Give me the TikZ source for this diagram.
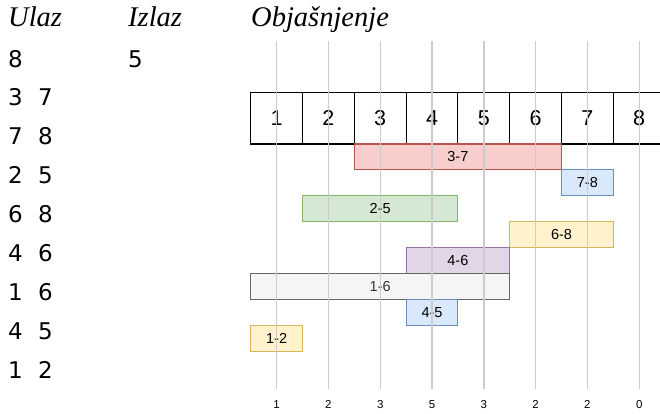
\documentclass[tikz,border=0pt]{standalone}
\usepackage{fontspec}
\setmainfont{Liberation Serif}
\newfontfamily\arialf{Liberation Sans}
\newfontfamily\dejavuf{DejaVu Sans}
\definecolor{redF}{HTML}{F8CECC}\definecolor{redD}{HTML}{B85450}
\definecolor{bluF}{HTML}{DAE8FC}\definecolor{bluD}{HTML}{6C8EBF}
\definecolor{grnF}{HTML}{D5E8D4}\definecolor{grnD}{HTML}{82B366}
\definecolor{ylwF}{HTML}{FFF2CC}\definecolor{ylwD}{HTML}{D6B656}
\definecolor{prpF}{HTML}{E1D5E7}\definecolor{prpD}{HTML}{9673A6}
\definecolor{gryF}{HTML}{F5F5F5}\definecolor{gryD}{HTML}{666666}
\definecolor{gryT}{HTML}{333333}
\definecolor{gridC}{HTML}{CCCCCC}
\begin{document}
\begin{tikzpicture}[x=1pt,y=-1pt,
  head/.style={anchor=base west, inner sep=0pt, font=\itshape\fontsize{28.5}{30}\selectfont},
  inp/.style={anchor=base west, inner sep=0pt, font=\dejavuf\fontsize{23}{25}\selectfont},
  cell/.style={draw=black, line width=1.1pt, minimum width=51.8pt, minimum height=51.3pt, inner sep=0pt, font=\arialf\fontsize{21.5}{22}\selectfont},
  bar/.style={line width=1.1pt, inner sep=0pt, minimum height=25.9pt, font=\arialf\fontsize{14.5}{15}\selectfont},
  gline/.style={draw=gridC, line width=1.4pt},
  cnt/.style={anchor=base, inner sep=0pt, font=\arialf\fontsize{11.5}{12}\selectfont}
]
\useasboundingbox[fill=white] (0,0) rectangle (660,413);
% headings
\node[head] (ulaz) at (8,26) {Ulaz};
\node[head] (izlaz) at (128,26) {Izlaz};
\node[head] (obj) at (251,26) {Objašnjenje};
% input
\node[inp] (in0a) at (8,67) {8};
\node[inp] (out0) at (128,67) {5};
\foreach \a/\b [count=\i] in {3/7,7/8,2/5,6/8,4/6,1/6,4/5,1/2}{
  \node[inp] (in\i a) at (8,{67+38.9*\i}) {\a};
  \node[inp] (in\i b) at (38,{67+38.9*\i}) {\b};
}
% table
\foreach \k in {1,...,8}{
  \node[cell] (c\k) at ({250.7+51.8*(\k-0.5)},118.3) {\k};
}
% bars: name/from/to/row/fill/draw/text
\foreach \nm/\a/\b/\r/\fc/\dc/\tc in {
  b37/3/7/1/redF/redD/black,
  b78/7/8/2/bluF/bluD/black,
  b25/2/5/3/grnF/grnD/black,
  b68/6/8/4/ylwF/ylwD/black,
  b46/4/6/5/prpF/prpD/black,
  b16/1/6/6/gryF/gryD/gryT,
  b45/4/5/7/bluF/bluD/black,
  b12/1/2/8/ylwF/ylwD/black}{
  \node[bar, fill=\fc, draw=\dc, text=\tc, minimum width={51.8pt*(\b-\a)}]
    (\nm) at ({250.7+51.8*(\a-1)+25.9*(\b-\a)},{144+25.9*(\r-0.5)}) {\a-\b};
}
% grid lines and counts
\foreach \k/\v in {1/1,2/2,3/3,4/5,5/3,6/2,7/2,8/0}{
  \coordinate (t\k) at ({250.7+51.8*(\k-0.5)},41);
  \coordinate (e\k) at ({250.7+51.8*(\k-0.5)},389);
  \draw[gline] (t\k) -- (e\k);
  \node[cnt] (n\k) at ({250.7+51.8*(\k-0.5)},408) {\v};
}
\end{tikzpicture}
\end{document}
